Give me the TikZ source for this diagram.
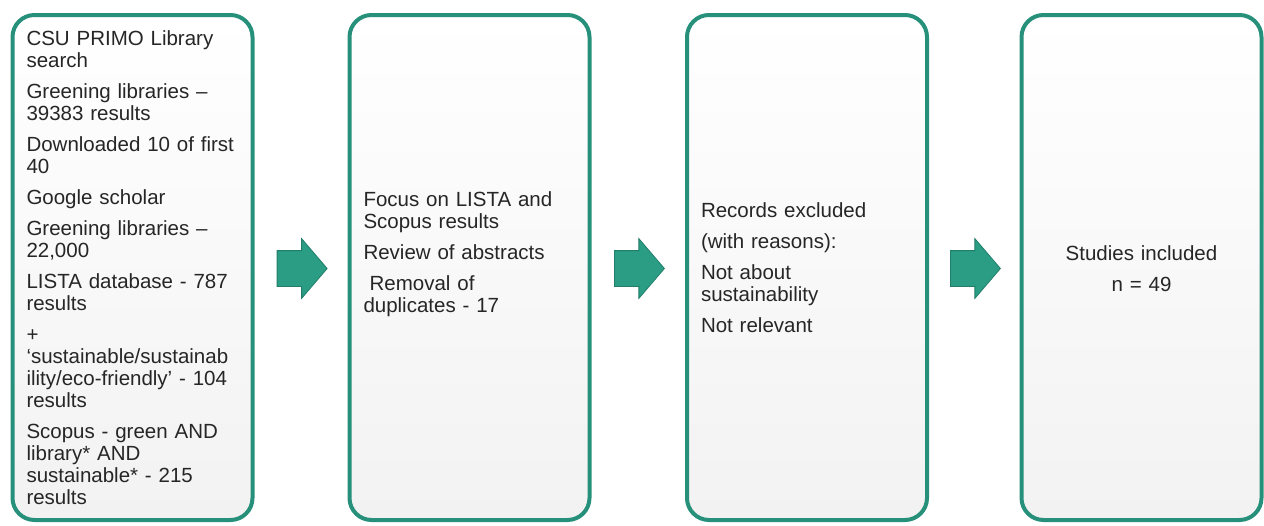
\documentclass[tikz,border=0pt]{standalone}
\usepackage{fontspec}
\setmainfont{Liberation Sans}
\usepackage{tikz}
\usetikzlibrary{shapes.arrows,calc}
\definecolor{tealedge}{HTML}{26907A}
\definecolor{tealarrow}{HTML}{2A9D84}
\definecolor{boxshade}{HTML}{F2F2F2}
\definecolor{textgrey}{HTML}{262626}
\tikzset{
  stagebox/.style={
    rectangle, rounded corners=11pt, draw=tealedge, line width=2pt,
    minimum width=120pt, minimum height=252.5pt, inner sep=0pt,
    top color=white, bottom color=boxshade
  },
  stagetext/.style={
    text width=112pt, align=left, inner sep=0pt,
    font=\fontsize{10.25}{11}\selectfont, text=textgrey
  },
  stagearrow/.style={
    single arrow, single arrow head extend=6pt, single arrow tip angle=99,
    minimum height=25pt, inner xsep=0pt, inner ysep=8.75pt,
    fill=tealarrow, draw=tealarrow!80!black, line width=0.4pt,
    xshift=-3.25pt, yshift=-0.5pt
  }
}
\begin{document}
\begin{tikzpicture}[x=0.5pt,y=-0.5pt]
\useasboundingbox (0,0) rectangle (1264,525);

\node[stagebox] (search) at (132.5,267.5) {};
\node[stagebox] (screen) at (469.5,267.5) {};
\node[stagebox] (exclude) at (807,267.5) {};
\node[stagebox] (include) at (1141.5,267.5) {};

\node[stagetext, xshift=3pt] (searchtext) at (search.center) {CSU PRIMO Library\\search\\[4.5pt]
Greening libraries --\\39383 results\\[4.5pt]
Downloaded 10 of first\\40\\[4.5pt]
Google scholar\\[4.5pt]
Greening libraries --\\22,000\\[4.5pt]
LISTA database - 787\\results\\[4.5pt]
+\\`sustainable/sustainab\\ility/eco-friendly' - 104\\results\\[4.5pt]
Scopus - green AND\\library* AND\\sustainable* - 215\\results};
\node[stagetext, xshift=3pt, yshift=6.75pt] (screentext) at (screen.center) {Focus on LISTA and\\Scopus results\\[4.5pt]
Review of abstracts\\[4.5pt]
\hspace*{0.3em}Removal of\\duplicates - 17};
\node[stagetext, xshift=3pt] (excludetext) at (exclude.center) {Records excluded\\[4.5pt]
(with reasons):\\[4.5pt]
Not about\\sustainability\\[4.5pt]
Not relevant};
\node[stagetext, align=center, yshift=-0.5pt] (includetext) at (include.center) {Studies included\\[4.5pt]
n = 49};

\node[stagearrow] (arrowA) at ($(search.east)!0.5!(screen.west)$) {};
\node[stagearrow] (arrowB) at ($(screen.east)!0.5!(exclude.west)$) {};
\node[stagearrow] (arrowC) at ($(exclude.east)!0.5!(include.west)$) {};
\end{tikzpicture}
\end{document}
